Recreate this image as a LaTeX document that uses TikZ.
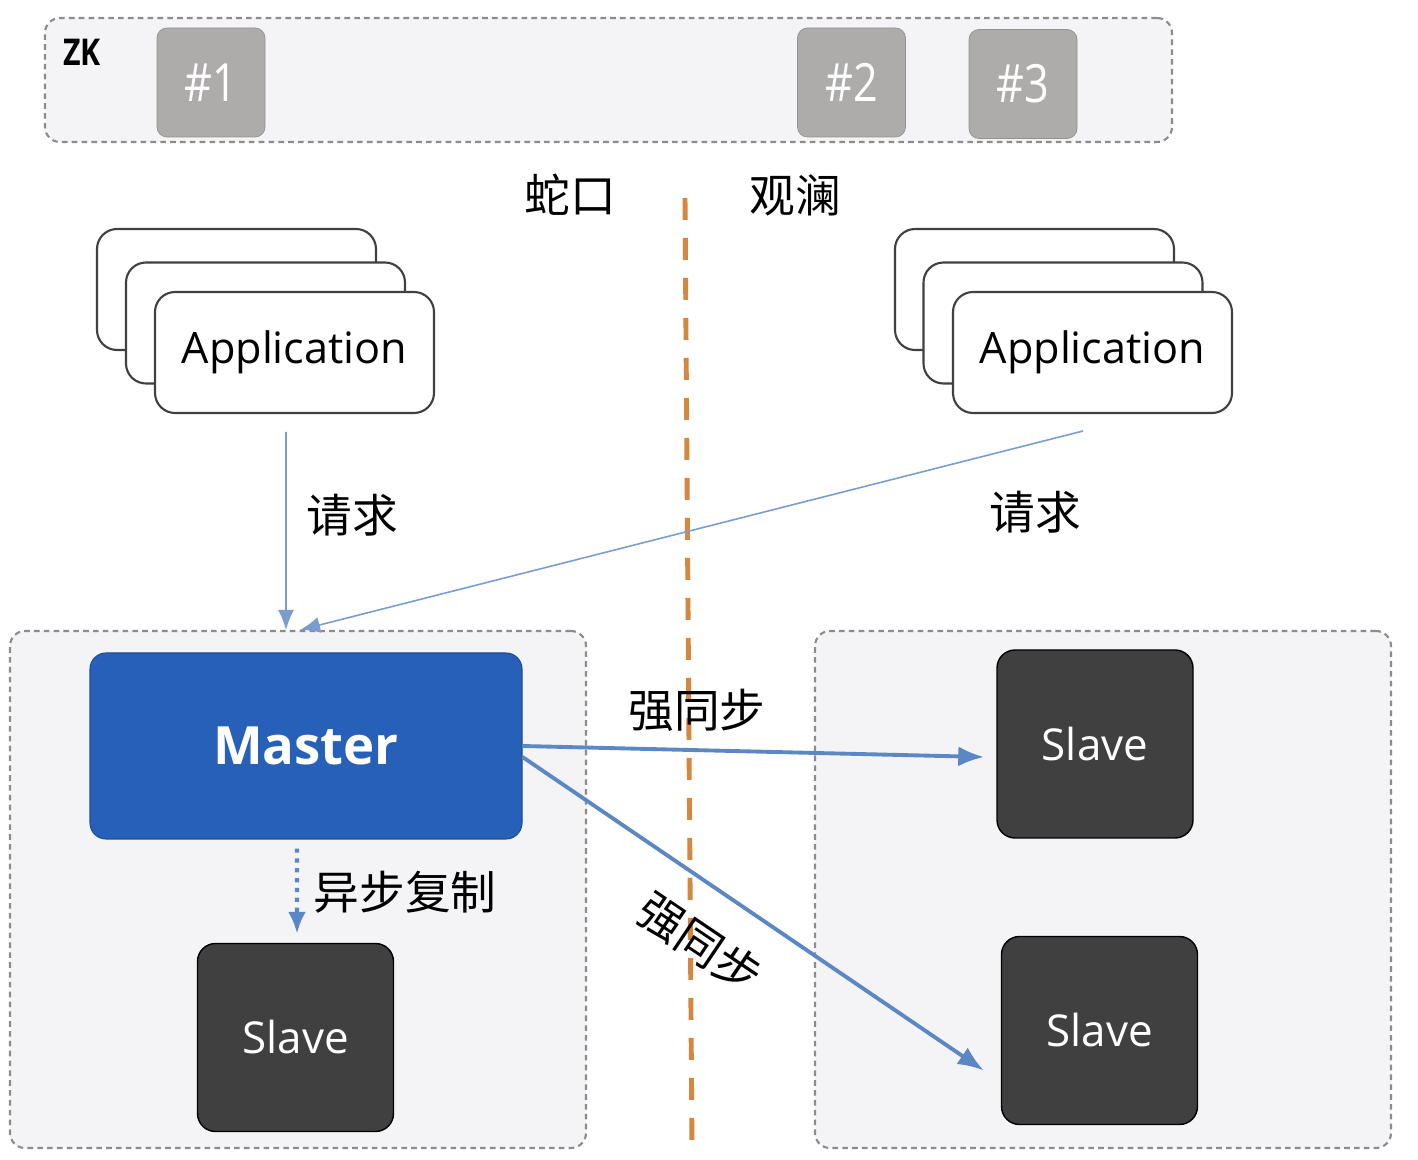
\documentclass[tikz,border=0pt]{standalone}
\usepackage{fontspec}
\setmainfont{Open Sans}
\newfontfamily\cjk{Noto Sans CJK SC}
\newfontfamily\narrowsans[FakeStretch=0.82]{Open Sans}
\usetikzlibrary{arrows.meta,calc}

\definecolor{zonegray}{HTML}{F4F4F6}
\definecolor{zoneline}{HTML}{8C8C8C}
\definecolor{zkgray}{HTML}{AEABAB}
\definecolor{masterblue}{HTML}{2760B8}
\definecolor{slavegray}{HTML}{404040}
\definecolor{linkblue}{HTML}{5B88C4}
\definecolor{reqblue}{HTML}{7A9DD0}
\definecolor{splitorange}{HTML}{D3873F}

\tikzset{
  zone/.style={draw=zoneline, fill=zonegray, line width=0.6pt, dash pattern=on 1.6pt off 1.2pt, rounded corners=1.5mm, inner sep=0pt},
  zkbox/.style={fill=zkgray, draw=zkgray!85!black, line width=0.2pt, rounded corners=1mm, minimum width=10.8mm, minimum height=10.9mm, text=white, font=\narrowsans\fontsize{15}{18}\selectfont},
  appbox/.style={draw=black!75, fill=white, line width=0.6pt, rounded corners=2mm, minimum width=27.9mm, minimum height=12.1mm, font=\fontsize{12.3}{15}\selectfont},
  masterbox/.style={fill=masterblue, draw=masterblue!80!black, line width=0.3pt, rounded corners=1.6mm, minimum width=43.2mm, minimum height=18.6mm, text=white, font=\bfseries\fontsize{15}{18}\selectfont},
  slavebox/.style={fill=slavegray, draw=black, line width=0.4pt, rounded corners=1.8mm, minimum width=19.6mm, minimum height=18.8mm, text=white, font=\fontsize{12.5}{15}\selectfont},
  tag/.style={font=\cjk\fontsize{13}{16}\selectfont, inner sep=0pt},
  req/.style={draw=reqblue, line width=0.45pt, -{Latex[length=2mm,width=1.6mm]}},
  sync/.style={draw=linkblue, line width=1.1pt, -{Latex[length=2.6mm,width=2mm]}},
  async/.style={draw=linkblue, line width=1.2pt, dash pattern=on 1.2pt off 1.6pt, -{Latex[length=2.2mm,width=1.8mm]}},
  split/.style={draw=splitorange, line width=1.4pt, dash pattern=on 2.2mm off 1.8mm}
}

\begin{document}
\begin{tikzpicture}[x=0.1mm, y=-0.1mm]
  \fill[white] (0,0) rectangle (1418,1160);
  \useasboundingbox (0,0) rectangle (1418,1160);

  % zookeeper
  \node[zone, minimum width=112.7mm, minimum height=12.4mm] (zkzone) at (608.5,80) {};
  \node[font=\narrowsans\bfseries\fontsize{10.5}{12}\selectfont] (zklabel) at (82,52) {ZK};
  \node[zkbox] (zk1) at (211,82.5) {\#1};
  \node[zkbox] (zk2) at (851.5,82.5) {\#2};
  \node[zkbox] (zk3) at (1023,84) {\#3};

  % rooms
  \node[tag] (shekou) at (570,195) {蛇口};
  \node[tag] (guanlan) at (795,195) {观澜};

  % applications
  \node[appbox] (appLback) at (236.5,289.5) {};
  \node[appbox] (appLmid) at (265.5,323) {};
  \node[appbox] (appL) at (294.5,352.5) {Application};
  \node[appbox] (appRback) at (1034.5,289.5) {};
  \node[appbox] (appRmid) at (1063,323) {};
  \node[appbox] (appR) at (1092.5,352.5) {Application};

  % zones
  \node[zone, minimum width=57.6mm, minimum height=51.7mm] (leftzone) at (298,889.5) {};
  \node[zone, minimum width=57.6mm, minimum height=51.7mm] (rightzone) at (1103,889.5) {};

  \node[masterbox] (master) at (306,746) {Master};
  \node[slavebox] (slaveL) at (295.5,1037.5) {Slave};
  \node[slavebox] (slaveA) at (1095,744) {Slave};
  \node[slavebox] (slaveB) at (1099.5,1030.5) {Slave};

  % split line
  \coordinate (divtop) at (685,198);
  \coordinate (divbot) at (692,1150);
  \draw[split] (divtop) -- (divbot);

  % requests
  \coordinate (reqLs) at (286,432);
  \coordinate (reqRs) at (1083,431);
  \draw[req] (reqLs) -- ([xshift=-1.2mm]leftzone.north);
  \draw[req] (reqRs) -- ([xshift=0.2mm]leftzone.north);
  \node[tag] (reqLtag) at (352,515) {请求};
  \node[tag] (reqRtag) at (1035,512) {请求};

  % replication
  \draw[sync] (master.east) -- ([xshift=-1.2mm,yshift=-1.3mm]slaveA.west);
  \draw[sync] ([yshift=-1.1mm]master.east) -- ([xshift=-1.7mm,yshift=-4mm]slaveB.west);
  \draw[async] ([xshift=-0.9mm,yshift=-0.9mm]master.south) -- ([xshift=0.15mm,yshift=0.9mm]slaveL.north);
  \node[tag] (syncA) at (697,710) {强同步};
  \node[tag, rotate=-34] (syncB) at (700,943) {强同步};
  \node[tag] (asynctag) at (405,892) {异步复制};
\end{tikzpicture}
\end{document}
